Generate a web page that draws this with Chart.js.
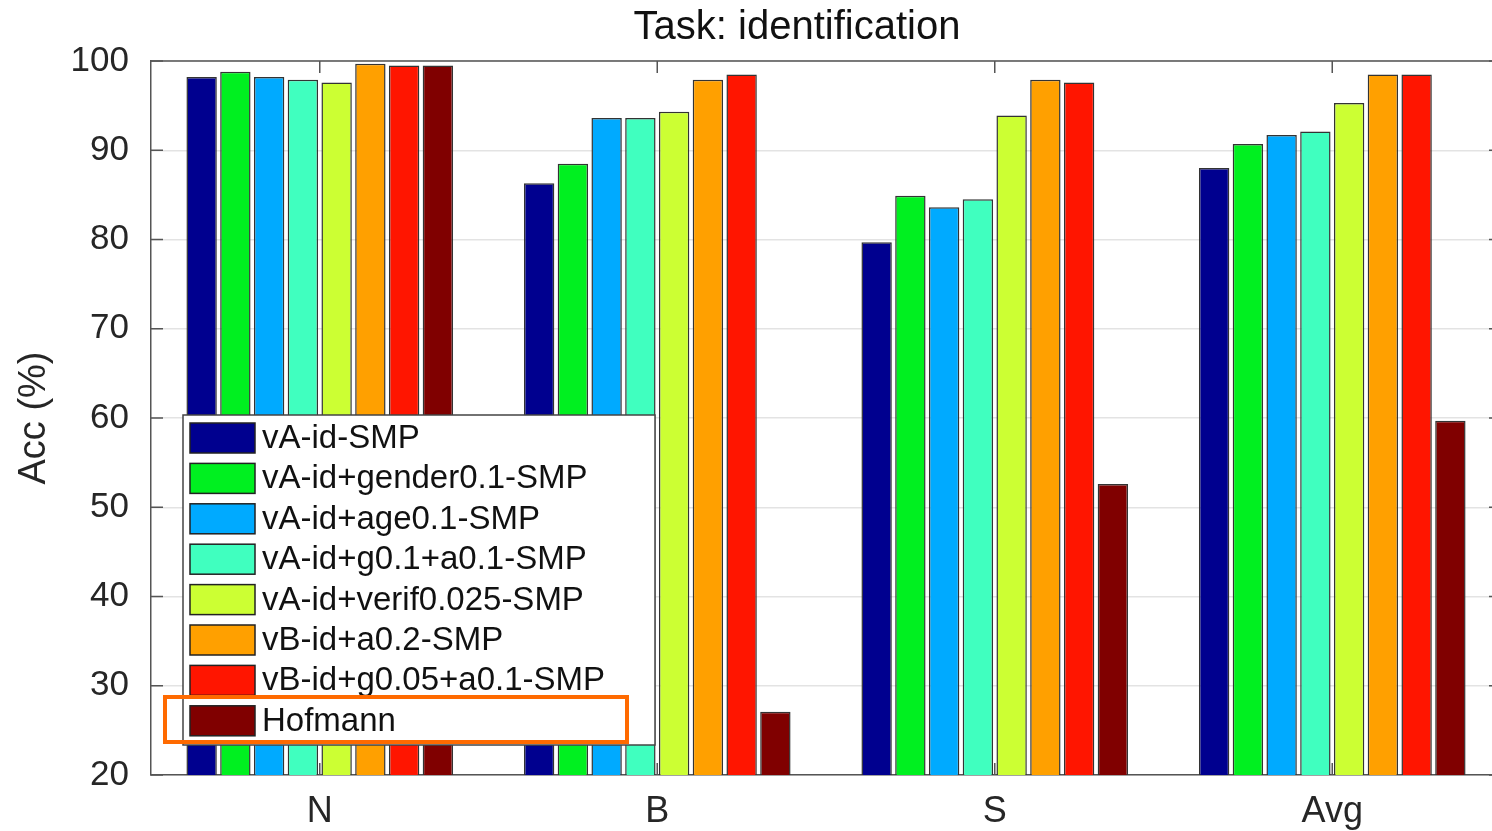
<!DOCTYPE html>
<html>
<head>
<meta charset="utf-8">
<script src="https://cdn.jsdelivr.net/npm/chart.js@4.4.1/dist/chart.umd.min.js"></script>
<style>
  html, body { margin: 0; padding: 0; background: #fff; overflow: hidden; }
  #wrap { width: 1502px; height: 831px; }
</style>
</head>
<body>
<div id="wrap"><canvas id="grafik"></canvas></div>
<script>
const CATEGORIES = ['N', 'B', 'S', 'Avg'];

const SERIES_NAMES = [
    'vA-id-SMP',
    'vA-id+gender0.1-SMP',
    'vA-id+age0.1-SMP',
    'vA-id+g0.1+a0.1-SMP',
    'vA-id+verif0.025-SMP',
    'vB-id+a0.2-SMP',
    'vB-id+g0.05+a0.1-SMP',
    'Hofmann'
];

// one array per series, values for N, B, S, Avg
const vAid = [98.2, 86.3, 79.7, 88.0];
const vAidGender = [98.8, 88.5, 84.9, 90.7];
const vAidAge = [98.2, 93.6, 83.6, 91.7];
const vAidGA = [97.9, 93.6, 84.5, 92.1];
const vAidVerif = [97.6, 94.3, 93.9, 95.3];
const vBidA = [99.7, 97.9, 97.9, 98.5];
const vBidGA = [99.5, 98.5, 97.6, 98.5];
const hofmann = [99.5, 27.1, 52.6, 59.7];

const Y_TICKS = [20, 30, 40, 50, 60, 70, 80, 90, 100];

const COLORS = ['#00008F', '#00F020', '#00AAFF', '#40FFBF', '#CCFF33', '#FFA000', '#FF1500', '#800000'];

const seriesValues = [vAid, vAidGender, vAidAge, vAidGA, vAidVerif, vBidA, vBidGA, hofmann];

const datasets = SERIES_NAMES.map((name, i) => ({
    label: name,
    data: seriesValues[i],
    backgroundColor: COLORS[i],
    borderColor: '#333333',
    borderWidth: 1.5,
    borderSkipped: false
}));

const FONT = '"Liberation Sans", Arial, sans-serif';

// title, box around plot, inward ticks, and the legend drawn inside the axes
const boxAndLegend = {
    id: 'boxAndLegend',
    afterDraw(chart) {
        const ctx = chart.ctx;
        const a = chart.chartArea;
        const xs = chart.scales.x;
        ctx.save();

        ctx.fillStyle = '#111';
        ctx.font = '40px ' + FONT;
        ctx.textAlign = 'center';
        ctx.textBaseline = 'middle';
        ctx.fillText('Task: identification', 797, 28);
        ctx.textAlign = 'left';

        ctx.strokeStyle = '#555';
        ctx.lineWidth = 1.5;
        ctx.beginPath();
        ctx.moveTo(a.left, a.top); ctx.lineTo(a.right, a.top);
        ctx.moveTo(a.right, a.top); ctx.lineTo(a.right, a.bottom);
        ctx.stroke();
        // inward ticks
        CATEGORIES.forEach((c, i) => {
            const x = xs.getPixelForValue(i);
            ctx.beginPath();
            ctx.moveTo(x, a.top); ctx.lineTo(x, a.top + 12);
            ctx.moveTo(x, a.bottom); ctx.lineTo(x, a.bottom - 12);
            ctx.stroke();
        });
        Y_TICKS.forEach(v => {
            const y = chart.scales.y.getPixelForValue(v);
            ctx.beginPath();
            ctx.moveTo(a.left, y); ctx.lineTo(a.left + 12, y);
            ctx.moveTo(a.right, y); ctx.lineTo(a.right - 12, y);
            ctx.stroke();
        });

        // legend
        const bx = 183, by = 415, bw = 472, bh = 330;
        ctx.fillStyle = '#fff';
        ctx.fillRect(bx, by, bw, bh);
        ctx.strokeStyle = '#444';
        ctx.lineWidth = 1.5;
        ctx.strokeRect(bx, by, bw, bh);
        ctx.font = '33px ' + FONT;
        ctx.textBaseline = 'middle';
        chart.data.datasets.forEach((ds, i) => {
            const cy = 438 + i * 40.4;
            ctx.fillStyle = ds.backgroundColor;
            ctx.fillRect(190, cy - 15, 65, 30);
            ctx.strokeStyle = '#222';
            ctx.lineWidth = 1.5;
            ctx.strokeRect(190, cy - 15, 65, 30);
            ctx.fillStyle = '#111';
            ctx.fillText(ds.label, 262, cy + 1);
        });
        // orange highlight around Hofmann
        ctx.strokeStyle = '#FF6A00';
        ctx.lineWidth = 4;
        ctx.strokeRect(165, 697, 462, 45);
        ctx.restore();
    }
};

const config = {
    type: 'bar',
    data: {
        labels: CATEGORIES,
        datasets: datasets
    },
    options: {
        responsive: true,
        maintainAspectRatio: false,
        animation: false,
        layout: { padding: { left: 0, right: 1, top: 61, bottom: 0 } },
        plugins: {
            legend: { display: false },
            tooltip: { enabled: false },
            title: { display: false }
        },
        scales: {
            x: {
                grid: { display: false, drawTicks: false },
                border: { color: '#555', width: 1.5 },
                ticks: {
                    color: '#262626',
                    padding: 15,
                    font: { family: FONT, size: 36 }
                },
                afterFit(scale) { scale.height = 56; }
            },
            y: {
                min: 20,
                max: 100,
                grid: { color: '#e3e3e3', lineWidth: 1.5, drawTicks: false },
                border: { color: '#555', width: 1.5 },
                ticks: {
                    stepSize: 10,
                    color: '#262626',
                    padding: 22,
                    font: { family: FONT, size: 35 }
                },
                title: {
                    display: true,
                    text: 'Acc (%)',
                    color: '#262626',
                    font: { family: FONT, size: 38 },
                    padding: { top: 12, bottom: 0 }
                },
                afterFit(scale) { scale.width = 151; }
            }
        }
    },
    plugins: [boxAndLegend]
};

const chart = new Chart(document.getElementById('grafik'), config);
</script>
</body>
</html>
